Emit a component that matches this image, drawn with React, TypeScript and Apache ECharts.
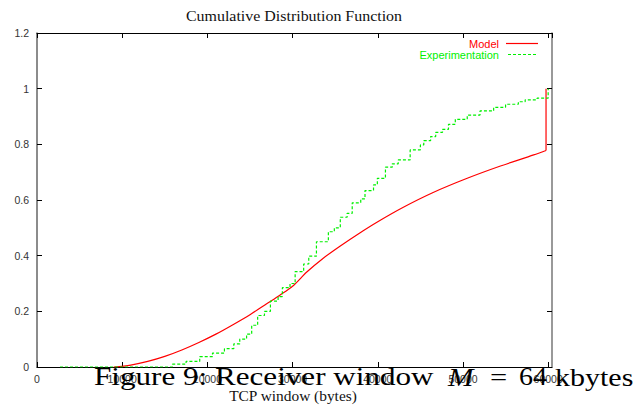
import React, { useEffect, useRef } from "react";
import * as echarts from "echarts";

// Model curve (TCP window in bytes, cumulative probability)
const modelX = [9000, 11000, 13000, 15000, 17000, 19000, 21000, 23000, 25000, 27000, 28500, 30000, 31700, 33600, 35600, 37800, 40000, 43000, 46500, 50500, 54400, 58300, 59750];
const modelY = [0, 0.007, 0.02, 0.038, 0.061, 0.088, 0.118, 0.152, 0.188, 0.228, 0.258, 0.29, 0.342, 0.391, 0.435, 0.48, 0.522, 0.574, 0.627, 0.678, 0.722, 0.762, 0.778];
// Final jump of the model at the receiver window limit
const modelJumpX = [59750, 59750];
const modelJumpY = [0.778, 1.0];

// Experimentation staircase
const expX = [2700, 15900, 17500, 19100, 20600, 22000, 23100, 23800, 24600, 25200, 25900, 26700, 27400, 28300, 28800, 29700, 30300, 31300, 31900, 32800, 34200, 34900, 35600, 36400, 37000, 38000, 38500, 39500, 39950, 40900, 41700, 42400, 43800, 45000, 45400, 46200, 46800, 47600, 48300, 49100, 50500, 52000, 53600, 55000, 56500, 57300, 58700, 60000];
const expY = [0, 0.01, 0.02, 0.037, 0.05, 0.066, 0.083, 0.1, 0.118, 0.15, 0.185, 0.2, 0.237, 0.253, 0.285, 0.3, 0.343, 0.37, 0.398, 0.45, 0.486, 0.5, 0.538, 0.552, 0.59, 0.604, 0.634, 0.654, 0.678, 0.718, 0.73, 0.744, 0.78, 0.798, 0.813, 0.828, 0.843, 0.854, 0.872, 0.89, 0.905, 0.92, 0.933, 0.944, 0.953, 0.96, 0.966, 1.0];

const titleText = "Cumulative Distribution Function";
const xName = "TCP window (bytes)";
const seriesNames = ["Model", "Experimentation"];
const captionParts = ["Figure 9: Receiver window", "M", "=", "64", "kbytes"];

export default function App() {
  const ref = useRef<HTMLDivElement>(null);
  useEffect(() => {
    if (!ref.current) return;
    const chart = echarts.init(ref.current, undefined, { renderer: "svg" });
    const serif = "Liberation Serif";
    const sans = "Liberation Sans";
    const sx = 1.22;
    const capY = 377;
    const red = "#ff0000";
    const green = "#00f000";
    const grid = { left: 37, top: 33, width: 515, height: 334 };
    const axisCommon = {
      min: 0,
      splitLine: { show: false },
    };
    chart.setOption({
      animation: false,
      backgroundColor: "#ffffff",
      grid: { ...grid, containLabel: false },
      xAxis: [
        {
          ...axisCommon,
          type: "value",
          max: 60450,
          interval: 10000,
          position: "bottom",
          axisLine: { show: true, onZero: false, lineStyle: { color: "#000", width: 1 } },
          axisTick: { show: true, inside: true, length: 5, lineStyle: { color: "#000" } },
          axisLabel: {
            show: true,
            margin: 6,
            fontFamily: sans,
            fontSize: 10.5,
            color: "#333",
            showMaxLabel: false,
            formatter: (v: number) => (v % 10000 === 0 ? String(v) : ""),
          },
        },
        {
          ...axisCommon,
          type: "value",
          max: 60450,
          interval: 10000,
          position: "top",
          axisLine: { show: true, onZero: false, lineStyle: { color: "#000", width: 1 } },
          axisTick: { show: true, inside: true, length: 5, lineStyle: { color: "#000" } },
          axisLabel: { show: false },
        },
      ],
      yAxis: [
        {
          ...axisCommon,
          type: "value",
          max: 1.2,
          interval: 0.2,
          position: "left",
          axisLine: { show: true, onZero: false, lineStyle: { color: "#666", width: 1.5 } },
          axisTick: { show: true, inside: true, length: 5, lineStyle: { color: "#000" } },
          axisLabel: { show: true, margin: 8, fontFamily: sans, fontSize: 10.5, color: "#333" },
        },
        {
          ...axisCommon,
          type: "value",
          max: 1.2,
          interval: 0.2,
          position: "right",
          axisLine: { show: true, onZero: false, lineStyle: { color: "#777", width: 1.5 } },
          axisTick: { show: true, inside: true, length: 5, lineStyle: { color: "#000" } },
          axisLabel: { show: false },
        },
      ],
      series: [
        {
          name: seriesNames[0],
          type: "line",
          xAxisIndex: 0,
          yAxisIndex: 0,
          data: modelX.map((x, i) => [x, modelY[i]]),
          smooth: 0.3,
          showSymbol: false,
          symbol: "none",
          lineStyle: { color: red, width: 1.2 },
          z: 3,
        },
        {
          name: seriesNames[0],
          type: "line",
          xAxisIndex: 0,
          yAxisIndex: 0,
          data: modelJumpX.map((x, i) => [x, modelJumpY[i]]),
          showSymbol: false,
          symbol: "none",
          lineStyle: { color: red, width: 1.2 },
          z: 3,
        },
        {
          name: seriesNames[1],
          type: "line",
          step: "end",
          xAxisIndex: 0,
          yAxisIndex: 0,
          data: expX.map((x, i) => [x, expY[i]]),
          showSymbol: false,
          symbol: "none",
          lineStyle: { color: green, width: 1.2, type: [3, 2] },
          z: 4,
        },
      ],
      graphic: [
        {
          type: "text",
          x: 294,
          y: 16,
          scaleX: 1.1,
          style: { text: titleText, fontFamily: serif, fontSize: 14.5, fill: "#111", textAlign: "center", textVerticalAlign: "middle" },
        },
        {
          type: "text",
          x: 293,
          y: 396,
          scaleX: 1.1,
          style: { text: xName, fontFamily: serif, fontSize: 14, fill: "#111", textAlign: "center", textVerticalAlign: "middle" },
        },
        {
          type: "text",
          x: 499,
          y: 43.5,
          style: { text: seriesNames[0], fontFamily: sans, fontSize: 11, fill: red, textAlign: "right", textVerticalAlign: "middle" },
        },
        {
          type: "line",
          shape: { x1: 506, y1: 43.5, x2: 538, y2: 43.5 },
          style: { stroke: red, lineWidth: 1.2 },
        },
        {
          type: "text",
          x: 499,
          y: 54.5,
          style: { text: seriesNames[1], fontFamily: sans, fontSize: 11, fill: green, textAlign: "right", textVerticalAlign: "middle" },
        },
        {
          type: "line",
          shape: { x1: 508, y1: 54.5, x2: 538, y2: 54.5 },
          style: { stroke: green, lineWidth: 1.2, lineDash: [3, 2] },
        },
        {
          type: "text",
          x: 94,
          y: capY,
          scaleX: 1.245,
          z: 100,
          style: { text: captionParts[0], fontFamily: serif, fontSize: 25, fill: "#000", textAlign: "left", textVerticalAlign: "middle" },
        },
        {
          type: "text",
          x: 448,
          y: capY,
          scaleX: sx,
          z: 100,
          style: { text: captionParts[1], fontFamily: serif, fontStyle: "italic", fontSize: 25, fill: "#000", textAlign: "left", textVerticalAlign: "middle" },
        },
        {
          type: "text",
          x: 490,
          y: capY,
          scaleX: sx,
          z: 100,
          style: { text: captionParts[2], fontFamily: serif, fontSize: 25, fill: "#000", textAlign: "left", textVerticalAlign: "middle" },
        },
        {
          type: "text",
          x: 519,
          y: capY,
          scaleX: 1.12,
          z: 100,
          style: { text: captionParts[3], fontFamily: serif, fontSize: 25, fill: "#000", textAlign: "left", textVerticalAlign: "middle" },
        },
        {
          type: "text",
          x: 555,
          y: capY,
          scaleX: 1.2,
          z: 100,
          style: { text: captionParts[4], fontFamily: serif, fontSize: 25, fill: "#000", textAlign: "left", textVerticalAlign: "middle" },
        },
      ],
    });
    return () => chart.dispose();
  }, []);
  return <div ref={ref} style={{ position: "fixed", left: 0, top: 0, width: 639, height: 409 }} />;
}
